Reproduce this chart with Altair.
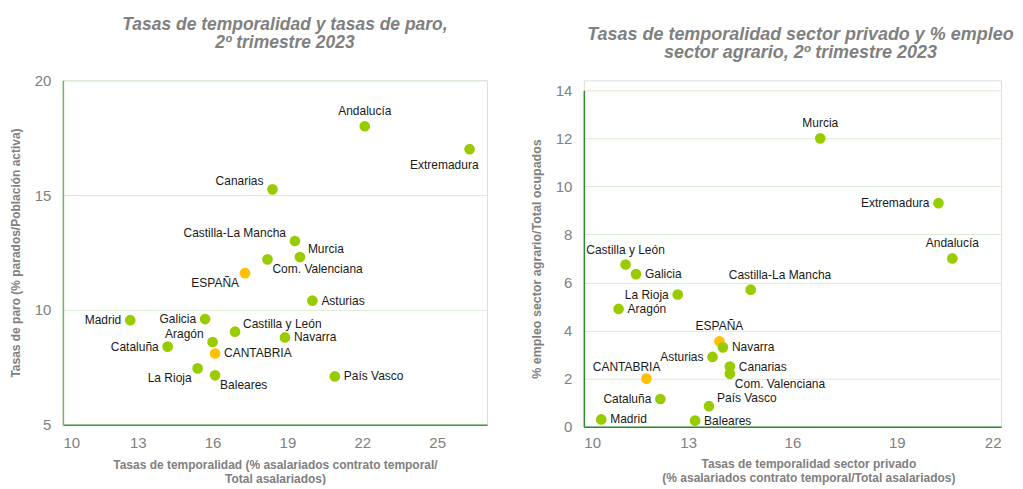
import altair as alt
import pandas as pd

# ---- Left panel data: temporality vs unemployment ----
regions_l = ["Andalucía", "Extremadura", "Canarias", "Castilla-La Mancha", "Murcia",
             "Com. Valenciana", "ESPAÑA", "Asturias", "Madrid", "Galicia",
             "Castilla y León", "Navarra", "Aragón", "Cataluña", "CANTABRIA",
             "La Rioja", "Baleares", "País Vasco"]
temp_l = [22.1, 26.3, 18.4, 19.3, 19.5, 18.2, 17.3, 20.0, 12.7, 15.7,
          16.9, 18.9, 16.0, 14.2, 16.1, 15.4, 16.1, 20.9]
paro_l = [18.0, 17.0, 15.25, 13.0, 12.3, 12.2, 11.6, 10.4, 9.55, 9.6,
          9.05, 8.8, 8.6, 8.4, 8.1, 7.45, 7.15, 7.1]
pos_l = ["above", "belowleft", "upleft", "upleft", "upright", "downright", "downleft",
         "right", "left", "left", "upright", "right", "upleft", "left", "right",
         "downleft", "downright", "right"]

# ---- Right panel data: private-sector temporality vs agrarian employment ----
regions_r = ["Murcia", "Extremadura", "Andalucía", "Castilla y León", "Galicia",
             "Castilla-La Mancha", "La Rioja", "Aragón", "ESPAÑA", "Navarra",
             "Asturias", "Canarias", "Com. Valenciana", "CANTABRIA", "Cataluña",
             "País Vasco", "Madrid", "Baleares"]
temp_r = [16.8, 20.2, 20.6, 11.2, 11.5, 14.8, 12.7, 11.0, 13.9, 14.0,
          13.7, 14.2, 14.2, 11.8, 12.2, 13.6, 10.5, 13.2]
agr_r = [12.0, 9.3, 7.0, 6.75, 6.35, 5.7, 5.5, 4.9, 3.55, 3.3,
         2.9, 2.5, 2.2, 2.0, 1.15, 0.85, 0.3, 0.25]
pos_r = ["above", "left", "above", "above", "right", "aboveright", "left", "right",
         "above", "right", "left", "right", "downright", "aboveleft", "left",
         "upright", "right", "right"]

highlight = ["ESPAÑA", "CANTABRIA"]

# label placement styles: (align, dx, dy)
PLACE = {
    "right": ("left", 9, 0),
    "left": ("right", -9, 0),
    "above": ("center", 0, -15),
    "belowleft": ("right", 9, 16),
    "upleft": ("right", -9, -8),
    "upright": ("left", 8, -8),
    "downright": ("left", 5, 10),
    "downleft": ("right", -6, 10),
    "aboveright": ("left", -22, -15),
    "aboveleft": ("right", 14, -12),
}

FONT = "Liberation Sans"
GREY = "#808080"


def make_df(names, xs, ys, pos):
    return pd.DataFrame({
        "region": names, "x": xs, "y": ys, "pos": pos,
        "grupo": ["Destacado" if n in highlight else "Región" for n in names],
    })


def panel(df, xdom, xvals, ydom, yvals, xtitle, ytitle, title, w, h, yrange,
          ydomain_color, xdomain_color, ytitle_size, title_size, title_dx, title_offset,
          x_label_pad, x_title_pad, x_title_x):
    xaxis = dict(values=xvals, title=xtitle, grid=False, ticks=False,
                 domainColor=xdomain_color, domainWidth=1.5,
                 labelFontSize=15, labelColor=GREY, labelFont=FONT,
                 labelPadding=x_label_pad, titleFont=FONT, titleFontSize=12,
                 titleColor=GREY, titleFontWeight="bold", titlePadding=x_title_pad,
                 titleLineHeight=13.5)
    if x_title_x is not None:
        xaxis["titleX"] = x_title_x
    x = alt.X("x:Q", scale=alt.Scale(domain=xdom, nice=False, zero=False),
              axis=alt.Axis(**xaxis))
    yscale = dict(domain=ydom, nice=False, zero=False)
    if yrange is not None:
        yscale["range"] = yrange
    y = alt.Y("y:Q", scale=alt.Scale(**yscale),
              axis=alt.Axis(values=yvals, title=ytitle, grid=True, gridColor="#D9ECD2",
                            ticks=False, domainColor=ydomain_color, domainWidth=1.5,
                            labelFontSize=15, labelColor=GREY, labelFont=FONT,
                            labelPadding=12, titleFont=FONT, titleFontSize=ytitle_size,
                            titleColor=GREY, titleFontWeight="bold", titlePadding=12))
    points = alt.Chart(df).mark_circle(size=115, opacity=1).encode(
        x=x, y=y,
        color=alt.Color("grupo:N", scale=alt.Scale(domain=["Región", "Destacado"],
                                                   range=["#99CC00", "#FFC000"]),
                        legend=None),
    )
    layers = [points]
    for key, (align, dx, dy) in PLACE.items():
        if key not in set(df["pos"]):
            continue
        layers.append(
            alt.Chart(df).transform_filter(alt.datum.pos == key)
            .mark_text(align=align, baseline="middle", dx=dx, dy=dy,
                       font=FONT, fontSize=12, color="#1a1a1a")
            .encode(x="x:Q", y="y:Q", text="region:N")
        )
    return alt.layer(*layers).properties(
        width=w, height=h,
        title=alt.TitleParams(title, font=FONT, fontSize=title_size, fontStyle="italic",
                              fontWeight="bold", color=GREY, anchor="middle",
                              lineHeight=title_size + 0.5, offset=title_offset,
                              dx=title_dx),
    )


left = panel(make_df(regions_l, temp_l, paro_l, pos_l), [10, 27], [10, 13, 16, 19, 22, 25],
             [5, 20], [5, 10, 15, 20],
             ["Tasas de temporalidad (% asalariados contrato temporal/", "Total asalariados)"],
             "Tasas de paro (% parados/Población activa)",
             ["Tasas de temporalidad y tasas de paro,", "2º trimestre 2023"],
             425, 345, None, "#70B85A", "#3F9B3F", 12, 17.5, 10, 22, 11, 9, None)

right = panel(make_df(regions_r, temp_r, agr_r, pos_r), [10, 22], [10, 13, 16, 19, 22],
              [0, 14], [0, 2, 4, 6, 8, 10, 12, 14],
              ["Tasas de temporalidad sector privado",
               "(% asalariados contrato temporal/Total asalariados)"],
              "% empleo sector agrario/Total ocupados",
              ["Tasas de temporalidad sector privado y % empleo",
               "sector agrario, 2º trimestre 2023"],
              418, 347, [347, 10], "#2E8B2E", "#2E8B2E", 12.5, 18, 8, 18, 9, 8, 225)

chart = alt.concat(left, right, columns=2, spacing=41).properties(
    padding={"left": 0, "top": 7, "right": 0, "bottom": 0}
).configure_view(stroke=None).configure(background="white")

chart.save("out.html", embed_options={"renderer": "svg", "actions": False})
